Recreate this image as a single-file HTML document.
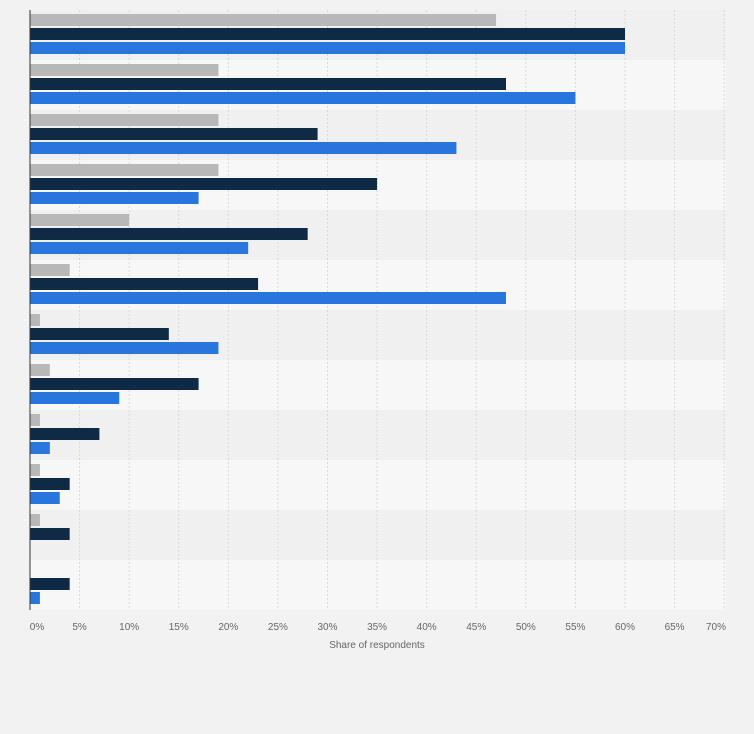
<!DOCTYPE html>
<html><head><meta charset="utf-8"><style>
body{margin:0;background:#f2f2f2;font-family:"Liberation Sans",sans-serif;}
</style></head><body>
<svg id="chart" width="754" height="729" xmlns="http://www.w3.org/2000/svg"></svg>
<script>
const categories=["c1","c2","c3","c4","c5","c6","c7","c8","c9","c10","c11","c12"];
const seriesGray=[47,19,19,19,10,4,1,2,1,1,1,0];
const seriesNavy=[60,48,29,35,28,23,14,17,7,4,4,4];
const seriesBlue=[60,55,43,17,22,48,19,9,2,3,0,1];
const ticks=[0,5,10,15,20,25,30,35,40,45,50,55,60,65,70];
const tickLabels=ticks.map(t=>t+"%");
const NS="http://www.w3.org/2000/svg";
const svgEl=document.getElementById('chart');
const x0=30,pxPer=595/60,plotTop=10,rowH=50;
const xs=v=>x0+v*pxPer;
function mk(tag,attrs){const e=document.createElementNS(NS,tag);for(const k in attrs)e.setAttribute(k,attrs[k]);svgEl.appendChild(e);return e;}
categories.forEach((c,i)=>{
  const r=mk('rect',{x:x0,y:plotTop+i*rowH,width:xs(70)-x0+2,height:rowH,fill:i%2?'#f7f7f7':'#f0f0f0'});
  
  
});
ticks.forEach((t,i)=>{
  if(t>0){const g=mk('line',{x1:xs(t),x2:xs(t),y1:plotTop,y2:plotTop+rowH*categories.length,stroke:'#d8d8d8','stroke-dasharray':'2,2'});
  
  }
  const tx=Math.max(37,Math.min(716,xs(t)));
  const l=mk('text',{x:tx,y:630,'text-anchor':'middle','font-size':'10',fill:'#666'});
  l.textContent=tickLabels[i];
  
  
});
const series=[[seriesGray,'#b8b8b8',4],[seriesNavy,'#0f2a45',18],[seriesBlue,'#2876dd',32]];
categories.forEach((c,i)=>{
  series.forEach(([arr,col,off],s)=>{
    if(arr[i]<=0)return;
    const b=mk('rect',{x:x0,y:plotTop+i*rowH+off,width:xs(arr[i])-x0,height:12,fill:col});
    
    
  });
});
const ax=mk('line',{x1:x0,x2:x0,y1:plotTop,y2:plotTop+rowH*categories.length,stroke:'#333','stroke-width':1});


const tt=mk('text',{x:377,y:648,'text-anchor':'middle','font-size':'10',fill:'#666'});
tt.textContent='Share of respondents';


</script>
</body></html>
